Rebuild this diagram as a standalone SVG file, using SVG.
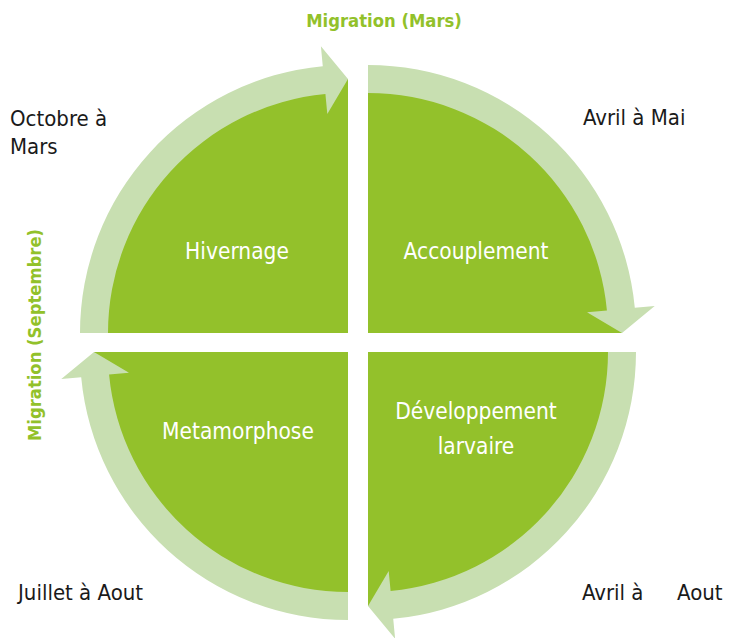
<svg xmlns="http://www.w3.org/2000/svg" width="729" height="638" viewBox="0 0 729 638">
<defs>
<style>
.wedge{fill:#93C12B}
.band{fill:#C8DFB1}
.lbl{font-family:"DejaVu Sans Condensed","DejaVu Sans",sans-serif;font-size:22.5px;fill:#FFFFFF;text-anchor:middle}
.side{font-family:"DejaVu Sans Condensed","DejaVu Sans",sans-serif;font-size:22px;fill:#1A1A1A}
.mig{font-family:"DejaVu Sans Condensed","DejaVu Sans",sans-serif;font-size:18.3px;font-weight:bold;fill:#92C12A;text-anchor:middle}
</style>
<path id="arc" d="M -240 0 L -268 0 A 268 268 0 0 1 -25.22 -266.81 L -27.10 -286.72 L 0 -254 L -20.70 -219.02 L -22.59 -238.93 A 240 240 0 0 0 -240 0 Z"/>
</defs>
<rect width="729" height="638" fill="#FFFFFF"/>
<g id="hivernage">
<path class="wedge" d="M348 333 L94 333 A254 254 0 0 1 348 79 Z"/>
<text class="lbl" x="237" y="259">Hivernage</text>
</g>
<g id="accouplement">
<path class="wedge" d="M368 333 L368 79 A254 254 0 0 1 622 333 Z"/>
<text class="lbl" x="476" y="259">Accouplement</text>
</g>
<g id="developpement">
<path class="wedge" d="M368 352 L622 352 A254 254 0 0 1 368 606 Z"/>
<text class="lbl" x="476" y="419">Développement</text>
<text class="lbl" x="476" y="454">larvaire</text>
</g>
<g id="metamorphose">
<path class="wedge" d="M348 352 L348 606 A254 254 0 0 1 94 352 Z"/>
<text class="lbl" x="238" y="439">Metamorphose</text>
</g>
<g id="connectors">
<use href="#arc" class="band" transform="translate(348,333)"/>
<use href="#arc" class="band" transform="translate(368,333) rotate(90)"/>
<use href="#arc" class="band" transform="translate(368,352) rotate(180)"/>
<use href="#arc" class="band" transform="translate(348,352) rotate(270)"/>
</g>
<g id="labels">
<text class="mig" x="384" y="27">Migration (Mars)</text>
<text class="mig" transform="translate(41,335) rotate(-90)">Migration (Septembre)</text>
<text class="side" x="10" y="126">Octobre à</text>
<text class="side" x="10" y="154">Mars</text>
<text class="side" x="583" y="125">Avril à Mai</text>
<text class="side" x="18" y="600">Juillet à Aout</text>
<text class="side" y="600"><tspan x="582">Avril à</tspan><tspan x="677">Aout</tspan></text>
</g>
</svg>
